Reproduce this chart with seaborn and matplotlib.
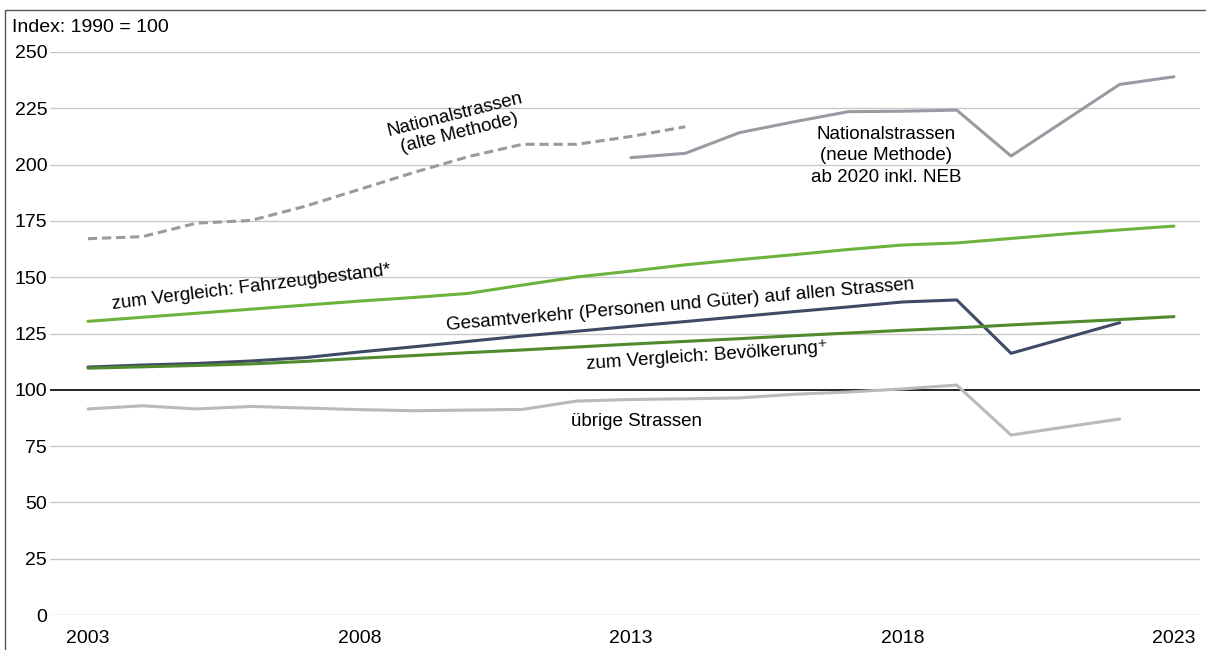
import numpy as np
import pandas as pd
import matplotlib
matplotlib.use("Agg")
import matplotlib.pyplot as plt
import seaborn as sns

# values (Index: 1990 = 100)
years_all = list(range(2003, 2024))
years_alt = list(range(2003, 2015))
years_neu = list(range(2013, 2024))
years_short = list(range(2003, 2023))

national_alt = [167.1, 168.0, 174.0, 175.2, 181.5, 189.0, 196.5, 203.5, 209.0, 209.0, 212.5, 216.8]
national_neu = [203.1, 205.0, 214.2, 219.0, 223.5, 223.7, 224.2, 203.8, 219.7, 235.6, 239.0]
fahrzeugbestand = [130.4, 132.2, 134.0, 135.8, 137.6, 139.4, 141.0, 142.8, 146.5, 150.1, 152.7,
                   155.5, 157.8, 160.0, 162.3, 164.3, 165.2, 167.2, 169.2, 171.0, 172.7]
gesamtverkehr = [110.1, 111.0, 111.7, 112.8, 114.3, 116.8, 119.1, 121.5, 123.9, 126.0, 128.2,
                 130.3, 132.5, 134.7, 136.8, 139.0, 139.9, 116.2, 123.0, 129.8]
bevoelkerung = [109.6, 110.2, 110.8, 111.5, 112.6, 114.0, 115.2, 116.5, 117.7, 119.0, 120.3,
                121.5, 122.7, 124.0, 125.2, 126.4, 127.5, 128.8, 130.0, 131.2, 132.5]
uebrige = [91.5, 92.9, 91.5, 92.6, 91.9, 91.2, 90.7, 91.0, 91.3, 95.0, 95.7,
           96.0, 96.4, 98.0, 99.0, 100.4, 102.1, 79.9, 83.5, 87.0]

x_ticks = [2003, 2008, 2013, 2018, 2023]
y_ticks = [0, 25, 50, 75, 100, 125, 150, 175, 200, 225, 250]

sns.set_style("white")
plt.rcParams["font.family"] = ["Liberation Sans", "DejaVu Sans"]
plt.rcParams["text.color"] = "black"
plt.rcParams["xtick.color"] = "black"
plt.rcParams["ytick.color"] = "black"

fig = plt.figure(figsize=(12.06, 6.5), dpi=100)
ax = fig.add_axes([50 / 1206, 35 / 650, 1150 / 1206, 563 / 650])

# grid
for v in y_ticks:
    if v == 100:
        ax.axhline(v, color="black", lw=1.2, zorder=2)
    else:
        ax.axhline(v, color="#c8c8c8", lw=1.0, zorder=1)

lw = 2.2
sns.lineplot(x=years_short, y=uebrige, ax=ax, color="#b9bac0", lw=lw, zorder=3)
sns.lineplot(x=years_alt, y=national_alt, ax=ax, color="#9a9a9e", lw=lw,
             linestyle=(0, (3, 1.6)), zorder=3)
sns.lineplot(x=years_neu, y=national_neu, ax=ax, color="#9b9aa3", lw=lw, zorder=3)
sns.lineplot(x=years_short, y=gesamtverkehr, ax=ax, color="#3e4a66", lw=lw, zorder=4)
sns.lineplot(x=years_all, y=bevoelkerung, ax=ax, color="#4f8a2c", lw=lw, zorder=5)
sns.lineplot(x=years_all, y=fahrzeugbestand, ax=ax, color="#6cb33e", lw=lw, zorder=5)

ax.set_xlim(2002.30, 2023.48)
ax.set_ylim(0, 250)
ax.set_xticks(x_ticks)
ax.set_yticks(y_ticks)
ax.tick_params(axis="both", length=0, labelsize=14)
ax.tick_params(axis="x", pad=11)
ax.tick_params(axis="y", pad=2)
for s in ax.spines.values():
    s.set_visible(False)
ax.set_xlabel("")
ax.set_ylabel("")

fig.text(12 / 1206, 1 - 27 / 650, "Index: 1990 = 100", fontsize=14, va="center", ha="left")

tkw = dict(fontsize=13.5, ha="center", va="center", rotation_mode="anchor")
ax.text(2009.8, 218.0, "Nationalstrassen\n(alte Methode)", rotation=14, linespacing=1.1, **tkw)
ax.text(2017.7, 204.0, "Nationalstrassen\n(neue Methode)\nab 2020 inkl. NEB", linespacing=1.35, **tkw)
ax.text(2006.0, 145.5, "zum Vergleich: Fahrzeugbestand*", rotation=7, **tkw)
ax.text(2013.9, 137.5, "Gesamtverkehr (Personen und Güter) auf allen Strassen", rotation=5, **tkw)
ax.text(2014.4, 115.0, "zum Vergleich: Bevölkerung⁺", rotation=4, **tkw)
ax.text(2013.1, 86.0, "übrige Strassen", **tkw)

# outer frame
fig.add_artist(plt.Rectangle((5 / 1206, -0.05), 1.2, 1 - 10 / 650 + 0.05,
                             transform=fig.transFigure, fill=False,
                             edgecolor="#555555", lw=1.0))

fig.savefig("out.png", dpi=100)
